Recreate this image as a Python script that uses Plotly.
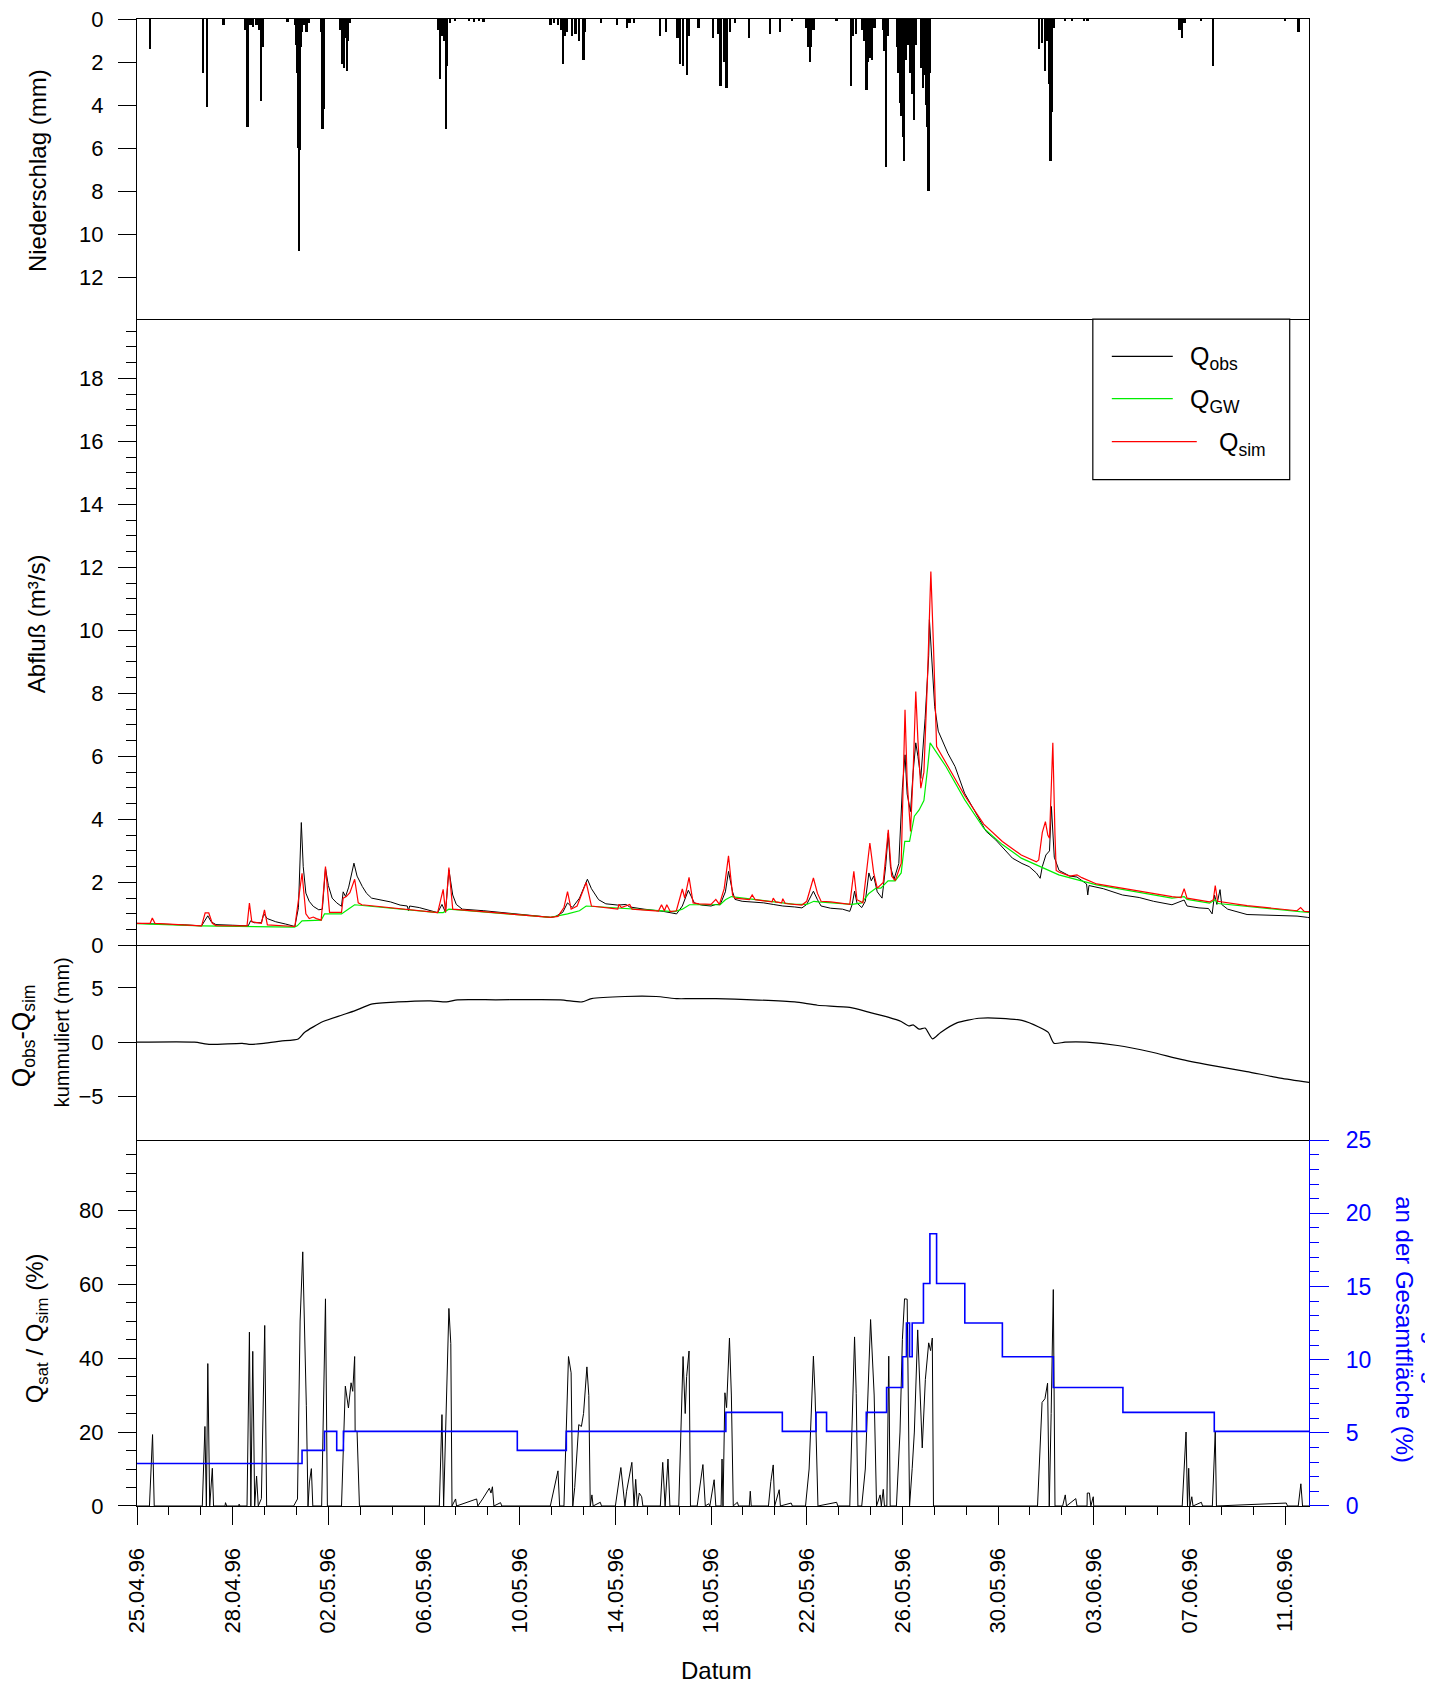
import plotly.graph_objects as go

# ---------------- data ----------------
tick_days = [0, 4, 8, 12, 16, 20, 24, 28, 32, 36, 40, 44, 48]
tick_labels = ["25.04.96", "28.04.96", "02.05.96", "06.05.96", "10.05.96", "14.05.96",
               "18.05.96", "22.05.96", "26.05.96", "30.05.96", "03.06.96", "07.06.96", "11.06.96"]

# precipitation (mm), day since first tick
precip_day = [0.56, 2.76, 2.94, 3.62, 4.55, 4.63, 4.75, 4.85, 5.0, 5.1, 5.19, 5.25, 6.3,
              6.62, 6.67, 6.70, 6.73, 6.76, 6.79, 6.83, 6.87, 6.92, 7.0, 7.1, 7.2, 7.72, 7.76, 7.8,
              8.5, 8.57, 8.62, 8.67, 8.72, 8.78, 8.83, 8.9, 12.62, 12.68, 12.75, 12.85, 12.93, 12.98,
              13.1, 13.3, 13.9, 14.1, 14.3, 14.5,
              17.3, 17.45, 17.6, 17.75, 17.83, 17.9, 17.97, 18.2, 18.35, 18.5, 18.67, 18.75, 19.4,
              20.07, 20.5, 20.6, 20.8, 21.88, 22.13, 22.6, 22.71, 22.85, 23.0, 23.1, 23.48,
              24.1, 24.3, 24.41, 24.55, 24.66, 24.8, 25.0, 25.6, 26.47, 26.9, 27.4,
              28.0, 28.08, 28.14, 28.2, 28.3, 29.25, 29.86, 29.95, 30.06, 30.35, 30.43, 30.51,
              30.57, 30.65, 30.74, 30.85, 31.2, 31.27, 31.32, 31.42, 31.8, 31.85, 31.9, 31.98, 32.03,
              32.07, 32.15, 32.25, 32.35, 32.42, 32.49, 32.55, 32.8, 32.88, 32.95, 33.02, 33.06,
              33.10, 33.16, 37.73, 37.85, 37.98, 38.08, 38.14, 38.2, 38.27, 38.35, 38.8, 39.1,
              39.6, 39.75, 43.6, 43.7, 43.8, 44.5, 44.99, 48.0, 48.57]
precip_mm = [1.4, 2.5, 4.1, 0.3, 0.5, 5.0, 0.3, 0.35, 0.3, 0.5, 3.8, 1.3, 0.15,
             0.3, 1.2, 2.5, 3.8, 6.0, 10.8, 6.1, 1.3, 0.6, 0.3, 0.6, 0.2, 0.6, 5.1, 4.2,
             0.5, 2.1, 0.8, 2.3, 0.9, 2.4, 1.0, 0.2, 0.5, 2.8, 0.8, 1.0, 5.1, 2.2,
             0.2, 0.1, 0.1, 0.15, 0.1, 0.15,
             0.3, 0.2, 0.3, 0.5, 2.1, 0.8, 0.6, 0.8, 0.7, 1.0, 1.9, 0.6, 0.2,
             0.3, 0.4, 0.2, 0.2, 0.8, 0.6, 0.9, 2.1, 2.2, 2.6, 0.8, 0.4,
             0.9, 0.7, 3.1, 2.0, 3.2, 0.6, 0.2, 0.9, 0.7, 0.6, 0.1,
             0.4, 1.3, 2.0, 1.3, 0.5, 0.1, 3.1, 0.8, 0.7, 0.5, 1.0, 3.3,
             2.0, 1.8, 1.9, 0.4, 0.5, 1.5, 6.9, 0.8, 1.3, 2.5, 3.9, 4.5, 5.5,
             6.6, 1.9, 1.2, 2.5, 3.5, 4.7, 1.2, 2.3, 3.2, 2.6, 4.0, 5.0,
             8.0, 2.5, 1.4, 1.1, 2.4, 1.0, 3.0, 6.6, 4.3, 0.4, 0.1, 0.1,
             0.1, 0.1, 0.5, 0.9, 0.2, 0.1, 2.2, 0.1, 0.6]

# observed discharge Q_obs (m3/s)
qobs_day = [0.0, 1.0, 2.0, 2.7, 2.85, 2.96, 3.1, 3.3, 4.0, 4.65, 4.75, 4.9, 5.2, 5.3, 5.45, 5.8,
            6.2, 6.6, 6.75, 6.87, 6.95, 7.06, 7.2, 7.37, 7.6, 7.75, 7.88, 8.0, 8.16, 8.35, 8.55,
            8.62, 8.72, 8.85, 9.07, 9.2, 9.42, 9.6, 9.81, 10.0, 10.2, 10.4, 10.6, 11.0, 11.3, 11.35,
            11.4, 11.8, 12.2, 12.57, 12.75, 12.9, 13.04, 13.2, 13.35, 13.6, 14.5, 15.5, 16.5,
            17.3, 17.5, 17.8, 18.0, 18.2, 18.5, 18.83, 19.0, 19.3, 19.6, 20.1, 20.44, 20.6, 21.2,
            22.0, 22.56, 22.8, 23.05, 23.3, 23.6, 24.0, 24.2, 24.38, 24.6, 24.73, 24.9, 25.0,
            25.3, 25.7, 26.2, 26.6, 27.0, 27.5, 27.8, 28.0, 28.28, 28.45, 28.6, 29.0, 29.5, 29.8,
            29.9, 30.0, 30.1, 30.3, 30.45, 30.6, 30.7, 30.8, 30.95, 31.15, 31.3, 31.41, 31.5,
            31.65, 31.85, 32.0, 32.11, 32.2, 32.34, 32.45, 32.56, 32.65, 32.77, 32.95, 33.1,
            33.13, 33.25, 33.35, 33.5, 33.7, 33.9, 34.2, 34.6, 35.0, 35.5, 35.9, 36.4, 36.6,
            37.0, 37.3, 37.6, 37.76, 37.85, 38.0, 38.15, 38.23, 38.35, 38.55, 39.0, 39.3, 39.7,
            39.75, 39.8, 40.4, 41.2, 41.9, 42.5, 43.0, 43.27, 43.78, 43.9, 44.4, 44.8, 44.95,
            45.05, 45.15, 45.28, 45.35, 45.6, 46.41, 47.2, 47.9, 48.5, 48.93, 49.0]
qobs = [0.70, 0.68, 0.65, 0.62, 0.80, 0.94, 0.75, 0.66, 0.64, 0.62, 0.78, 0.72, 0.72, 1.00, 0.85, 0.75,
        0.68, 0.60, 1.20, 3.90, 2.50, 1.66, 1.40, 1.24, 1.13, 1.15, 2.45, 1.90, 1.50, 1.35, 1.24,
        1.70, 1.55, 1.85, 2.61, 2.20, 1.87, 1.65, 1.50, 1.47, 1.44, 1.40, 1.38, 1.28, 1.25, 1.10,
        1.25, 1.20, 1.12, 1.04, 1.30, 1.05, 2.40, 1.60, 1.30, 1.15, 1.10, 1.02, 0.94,
        0.89, 0.92, 1.05, 1.35, 1.20, 1.50, 2.10, 1.80, 1.45, 1.32, 1.28, 1.30, 1.22, 1.15,
        1.08, 1.00, 1.25, 1.75, 1.35, 1.28, 1.25, 1.30, 1.29, 1.70, 2.35, 1.70, 1.46,
        1.40, 1.38, 1.35, 1.30, 1.25, 1.22, 1.19, 1.30, 1.72, 1.45, 1.25, 1.18, 1.15, 1.08,
        1.30, 1.72, 1.35, 1.20, 1.40, 2.30, 2.05, 2.20, 1.70, 1.50, 2.50, 3.56, 2.50,
        2.10, 2.60, 5.00, 6.05, 4.80, 4.25, 5.50, 6.43, 6.00, 5.30, 7.20, 9.20,
        10.34, 8.70, 7.58, 6.80, 6.43, 6.10, 5.68, 4.83, 4.30, 3.62, 3.35, 2.95, 2.77,
        2.60, 2.50, 2.30, 2.13, 2.50, 2.87, 3.00, 4.41, 2.80, 2.38, 2.20, 2.17, 1.95,
        1.60, 1.90, 1.80, 1.60, 1.52, 1.40, 1.32, 1.29, 1.44, 1.25, 1.19, 1.17, 1.00,
        1.60, 1.30, 1.77, 1.30, 1.15, 0.98, 0.97, 0.96, 0.93, 0.89, 0.88]

# groundwater component Q_GW
qgw_day = [0.0, 2.7, 6.58, 6.7, 6.9, 7.7, 7.84, 8.55, 8.8, 9.1, 12.57, 12.8, 13.04, 17.29, 18.0,
           18.5, 18.78, 22.48, 22.8, 23.1, 24.38, 24.6, 24.85, 27.5, 28.0, 28.3, 28.5, 29.9,
           30.3, 30.6, 30.9, 31.1, 31.4, 31.7, 31.95, 32.1, 32.3, 32.5, 32.7, 32.9, 33.05,
           33.16, 33.82, 34.61, 35.4, 36.18, 36.97, 38.54, 40.12, 41.69, 43.27, 43.78, 43.9,
           44.84, 45.08, 45.2, 46.41, 48.62, 49.0]
qgw = [0.69, 0.62, 0.58, 0.62, 0.78, 0.80, 1.00, 1.00, 1.13, 1.29, 1.04, 1.04, 1.15, 0.89, 1.00,
       1.10, 1.25, 1.07, 1.15, 1.29, 1.29, 1.45, 1.55, 1.30, 1.30, 1.40, 1.38, 1.30,
       1.35, 1.65, 1.82, 1.82, 2.05, 2.05, 2.30, 3.30, 3.30, 4.10, 4.30, 4.60, 5.60,
       6.43, 5.68, 4.62, 3.72, 3.20, 2.77, 2.24, 1.92, 1.71, 1.50, 1.55, 1.46,
       1.34, 1.45, 1.33, 1.23, 1.07, 1.05]

# simulated discharge Q_sim
qsim_day = [0.0, 0.55, 0.64, 0.75, 2.7, 2.85, 3.0, 3.15, 3.3, 4.6, 4.7, 4.8, 5.2, 5.33, 5.45, 6.6,
            6.9, 7.06, 7.2, 7.37, 7.5, 7.7, 7.88, 8.05, 8.55, 8.62, 8.75, 8.9, 9.1, 9.25, 9.4,
            12.57, 12.8, 12.9, 13.04, 13.2, 17.29, 17.6, 17.85, 18.0, 18.15, 18.4, 18.78, 19.0,
            20.1, 20.15, 20.25, 20.6, 20.7, 21.8, 21.93, 22.05, 22.15, 22.3, 22.55, 22.8, 22.9,
            23.08, 23.25, 23.5, 24.0, 24.2, 24.35, 24.55, 24.73, 24.9, 25.0, 25.6, 25.72, 25.85,
            26.55, 26.6, 26.7, 26.95, 27.0, 27.1, 27.8, 28.0, 28.28, 28.45, 28.6, 29.0, 29.8,
            29.97, 30.1, 30.35, 30.64, 30.8, 30.95, 31.2, 31.41, 31.55, 31.7, 31.95, 32.11, 32.2,
            32.34, 32.45, 32.56, 32.65, 32.77, 32.9, 33.05, 33.19, 33.3, 33.38, 33.43, 33.82,
            34.61, 35.4, 36.18, 36.97, 37.6, 37.7, 37.85, 37.98, 38.08, 38.15, 38.29, 38.38,
            38.43, 38.54, 39.0, 39.3, 39.5, 40.12, 41.69, 43.27, 43.65, 43.78, 43.9, 44.84, 45.0,
            45.08, 45.18, 46.41, 48.5, 48.65, 48.8, 49.0]
qsim = [0.70, 0.70, 0.87, 0.70, 0.62, 1.03, 1.03, 0.70, 0.63, 0.62, 1.34, 0.75, 0.70, 1.13, 0.65, 0.60,
        2.29, 1.00, 0.85, 0.90, 0.85, 0.80, 2.50, 1.05, 1.05, 1.50, 1.55, 1.67, 2.10, 1.35, 1.29,
        1.04, 1.78, 1.05, 2.47, 1.15, 0.89, 0.92, 1.20, 1.71, 1.15, 1.25, 2.00, 1.25,
        1.15, 1.30, 1.20, 1.30, 1.15, 1.09, 1.29, 1.10, 1.29, 1.07, 1.10, 1.79, 1.50,
        2.16, 1.35, 1.32, 1.30, 1.46, 1.30, 1.80, 2.84, 1.60, 1.50, 1.45, 1.60, 1.45,
        1.38, 1.50, 1.38, 1.35, 1.48, 1.33, 1.28, 1.40, 2.14, 1.65, 1.40, 1.38, 1.30,
        2.35, 1.45, 1.35, 3.25, 2.30, 1.82, 2.00, 3.67, 2.20, 2.06, 2.60, 7.48, 5.20,
        3.62, 5.50, 8.06, 6.50, 4.99, 5.50, 8.50, 11.87, 9.50, 7.69, 6.31, 5.80,
        4.75, 3.85, 3.30, 2.87, 2.65, 2.71, 3.59, 3.93, 3.50, 3.40, 6.43, 3.50,
        2.38, 2.33, 2.20, 2.24, 2.15, 1.95, 1.74, 1.55, 1.52, 1.80, 1.50, 1.38, 1.45,
        1.90, 1.40, 1.26, 1.10, 1.20, 1.08, 1.07]

# cumulative Q_obs - Q_sim (mm)
cum_day = [0.0, 2.4, 3.06, 4.4, 4.75, 5.3, 6.0, 6.74, 7.0, 7.78, 8.58, 9.12, 9.8, 10.9, 12.27, 12.94,
           13.4, 15.0, 17.7, 18.6, 19.0, 20.4, 21.7, 22.6, 23.06, 24.2, 25.75, 27.5, 28.45, 29.8,
           30.7, 31.4, 31.95, 32.27, 32.45, 32.7, 32.95, 33.26, 33.6, 34.3, 35.2, 36.1, 37.0,
           37.7, 38.1, 38.34, 38.8, 39.7, 41.0, 42.4, 43.7, 45.1, 46.4, 47.8, 49.0]
cum = [0.0, 0.0, -0.2, -0.1, -0.2, -0.1, 0.1, 0.3, 0.9, 1.9, 2.5, 2.9, 3.5, 3.7, 3.8, 3.7,
       3.9, 3.9, 3.9, 3.7, 4.0, 4.2, 4.2, 4.0, 4.0, 4.0, 3.9, 3.7, 3.4, 3.2,
       2.7, 2.3, 1.9, 1.5, 1.6, 1.2, 1.3, 0.3, 0.9, 1.8, 2.2, 2.2, 2.0,
       1.4, 0.9, -0.1, 0.0, 0.0, -0.3, -0.9, -1.6, -2.2, -2.7, -3.3, -3.7]

# Q_sat / Q_sim (%)
qsat_day = [0.0, 0.52, 0.65, 0.72, 2.73, 2.84, 2.9, 2.96, 3.04, 3.15, 3.2, 3.68, 3.7, 3.75, 4.25, 4.27,
            4.3, 4.6, 4.70, 4.76, 4.84, 4.92, 5.0, 5.07, 5.2, 5.34, 5.42, 6.55, 6.71, 6.82, 6.93,
            7.0, 7.08, 7.15, 7.21, 7.29, 7.35, 7.72, 7.88, 7.96, 8.55, 8.71, 8.84, 8.95, 9.02,
            9.10, 9.12, 9.2, 9.3, 12.64, 12.75, 12.82, 12.91, 13.04, 13.12, 13.17, 13.32, 13.36,
            14.2, 14.25, 14.45, 14.6, 14.73, 14.8, 14.86, 14.92, 15.2, 15.25, 17.28, 17.6,
            17.67, 17.85, 18.04, 18.15, 18.22, 18.3, 18.47, 18.58, 18.67, 18.81, 18.89, 18.95,
            19.02, 19.07, 19.37, 19.42, 20.0, 20.23, 20.4, 20.47, 20.69, 20.78, 20.85, 20.92,
            21.0, 21.1, 21.15, 21.88, 21.98, 22.08, 22.2, 22.28, 22.65, 22.83, 22.92, 22.98,
            23.08, 23.14, 23.42, 23.66, 23.76, 23.9, 23.95, 24.13, 24.2, 24.42, 24.46, 24.5,
            24.58, 24.65, 24.77, 24.85, 24.93, 25.1, 25.15, 25.6, 25.64, 25.68, 26.4, 26.5,
            26.6, 26.66, 26.85, 26.9, 27.35, 27.4, 27.95, 28.1, 28.28, 28.35, 28.47, 29.25,
            29.3, 29.8, 30.0, 30.07, 30.14, 30.3, 30.45, 30.67, 30.82, 30.92, 31.07, 31.12,
            31.2, 31.25, 31.35, 31.43, 31.49, 31.75, 31.9, 32.0, 32.09, 32.2, 32.3, 32.41,
            32.5, 32.64, 32.72, 32.83, 32.96, 33.1, 33.18, 33.25, 33.3, 37.65, 37.84, 37.96,
            38.07, 38.14, 38.22, 38.31, 38.38, 38.7, 38.81, 38.86, 39.25, 39.3, 39.72, 39.73,
            39.82, 39.88, 39.98, 40.0, 43.7, 43.86, 43.92, 43.97, 44.02, 44.1, 44.15, 44.5,
            44.55, 44.96, 45.08, 45.13, 48.05, 48.1, 48.55, 48.66, 48.73, 49.0]
qsat = [0, 0, 19.3, 0, 0, 21.5, 0, 38.5, 0, 10.2, 0, 0, 0.9, 0, 0, 0.5,
        0, 0, 47.0, 0, 41.8, 0, 8.1, 0, 2.0, 48.8, 0, 0, 1.9, 50.0, 68.7,
        50.0, 27.1, 0, 6.5, 10.1, 0, 0, 56.0, 0, 0, 32.4, 26.5, 33.3, 31.0,
        40.4, 20.2, 20.2, 0, 0, 24.7, 0, 25.0, 53.4, 43.9, 0, 1.9, 0,
        1.9, 0, 1.9, 3.3, 4.8, 3.5, 5.2, 0, 0.9, 0, 0, 9.5,
        0, 0, 40.4, 36.0, 0, 5.0, 22.0, 21.5, 25.0, 37.6, 29.9, 0,
        3.0, 0, 1.0, 0, 0, 10.4, 0, 4.0, 11.8, 0, 7.2, 0,
        3.5, 2.5, 0, 0, 11.8, 0, 12.7, 0, 0, 40.4, 25.0, 35.0,
        41.9, 0, 0, 11.2, 0, 0.6, 0, 7.1, 0, 0, 12.7, 0,
        30.6, 26.6, 45.4, 30.0, 0, 1.0, 0, 0, 4.0, 0, 0, 6.6,
        11.1, 0, 4.4, 0, 0.8, 0, 0, 10.0, 40.5, 30.0, 0, 1.0,
        0, 0, 45.7, 30.4, 0, 0, 10.0, 50.4, 30.0, 0, 3.0, 0,
        4.5, 0, 0, 40.5, 0, 0, 20.0, 45.0, 56.0, 55.9, 0, 10.2,
        20.0, 47.6, 35.0, 15.7, 34.2, 44.1, 42.0, 45.4, 0, 0, 28.0, 29.0,
        33.2, 0, 25.0, 58.5, 0, 0, 3.0, 0, 2.0, 0, 0, 3.5,
        3.5, 0, 2.5, 0, 0, 20.0, 0, 10.2, 0, 2.5, 0, 1.0,
        0, 0, 20.0, 0, 0.8, 0, 0, 6.0, 0, 0]

# saturated area fraction (%), step changes
sat_day = [0.0, 6.9, 7.84, 8.35, 8.63, 15.9, 17.95, 24.62, 26.98, 28.39, 28.83, 30.49, 31.34,
           32.01, 32.17, 32.3, 32.41, 32.88, 33.15, 33.43, 34.61, 36.18, 38.31, 41.22, 45.04, 49.0]
sat_area = [2.9, 3.8, 5.1, 3.8, 5.1, 3.8, 5.1, 6.4, 5.1, 6.4, 5.1, 6.4, 8.1,
            10.2, 12.5, 10.2, 12.5, 15.2, 18.6, 15.2, 12.5, 10.2, 8.1, 6.4, 5.1, 5.1]

# ---------------- layout helpers (page pixel coordinates) ----------------
OFF = 8                      # page body margin
W, H = 1425, 1679
PL, PR, PT, PB = 136.6, 1309.3, 19.4, 1506.1   # plot area in page pixels
ML, MT = PL - OFF, PT - OFF
MR, MB = W - (PR - OFF), H - (PB - OFF)
PW, PH = PR - PL, PB - PT


def px(x):
    return (x - PL) / PW


def py(y):
    return (PB - y) / PH


FONT = "Liberation Sans, Arial, sans-serif"
d1 = [py(319.5), 1.0]
d2 = [py(945.6), py(319.5)]
d3 = [py(1140.3), py(945.6)]
d4 = [0.0, py(1140.3)]

fig = go.Figure()
fig.add_trace(go.Bar(x=precip_day, y=precip_mm, width=0.08, marker=dict(color="black", line=dict(width=0)),
                     xaxis="x", yaxis="y", showlegend=False))
fig.add_trace(go.Scatter(x=qobs_day, y=qobs, mode="lines", line=dict(color="black", width=1),
                         xaxis="x2", yaxis="y2", showlegend=False))
fig.add_trace(go.Scatter(x=qgw_day, y=qgw, mode="lines", line=dict(color="#00ee00", width=1.2),
                         xaxis="x2", yaxis="y2", showlegend=False))
fig.add_trace(go.Scatter(x=qsim_day, y=qsim, mode="lines", line=dict(color="#ff0000", width=1.2),
                         xaxis="x2", yaxis="y2", showlegend=False))
fig.add_trace(go.Scatter(x=cum_day, y=cum, mode="lines", line=dict(color="black", width=1.2, shape="spline", smoothing=0.6),
                         xaxis="x3", yaxis="y3", showlegend=False))
fig.add_trace(go.Scatter(x=qsat_day, y=qsat, mode="lines", line=dict(color="black", width=1),
                         xaxis="x4", yaxis="y4", showlegend=False))
fig.add_trace(go.Scatter(x=sat_day, y=sat_area, mode="lines", line=dict(color="#0000ff", width=1.6, shape="hv"),
                         xaxis="x4", yaxis="y5", showlegend=False))

LW = 1.2
axline = dict(showline=True, linecolor="black", linewidth=LW, showgrid=False, zeroline=False, automargin=False)
tickst = dict(ticks="outside", ticklen=18, tickwidth=1.3, tickcolor="black",
              tickfont=dict(family=FONT, size=22, color="black"), ticklabelstandoff=10,
              ticklabeloverflow="allow")


def xax(anchor, show, mirror):
    d = dict(domain=[0, 1], range=[0, 49], anchor=anchor, mirror=mirror, **axline)
    if show:
        d.update(tickvals=tick_days, ticktext=tick_labels, tickangle=-90, **tickst,
                 minor=dict(dtick=4 / 3, tick0=0, ticks="outside", ticklen=8, tickwidth=1.3, tickcolor="black"))
        d["ticklabelstandoff"] = 14
    else:
        d.update(showticklabels=False, ticks="")
    return d


fig.update_layout(
    width=W, height=H, autosize=False,
    margin=dict(l=ML, r=MR, t=MT, b=MB, autoexpand=False),
    plot_bgcolor="white", paper_bgcolor="white",
    font=dict(family=FONT, size=22, color="black"),
    bargap=0,
    xaxis=xax("y", False, True), xaxis2=xax("y2", False, False), xaxis3=xax("y3", False, False),
    xaxis4=xax("y4", True, False),
    yaxis=dict(domain=d1, range=[13.95, 0], tickvals=[0, 2, 4, 6, 8, 10, 12], anchor="x", mirror=True,
               **axline, **tickst),
    yaxis2=dict(domain=d2, range=[0, 19.88], tickvals=[0, 2, 4, 6, 8, 10, 12, 14, 16, 18], anchor="x2",
                mirror=True, **axline, **tickst,
                minor=dict(dtick=0.5, tick0=0, ticks="outside", ticklen=10, tickwidth=1.3, tickcolor="black")),
    yaxis3=dict(domain=d3, range=[-9, 8.9], tickvals=[-5, 0, 5], anchor="x3", mirror=True, **axline, **tickst),
    yaxis4=dict(domain=d4, range=[0, 98.9], tickvals=[0, 20, 40, 60, 80], anchor="x4", mirror=False,
                **axline, **tickst,
                minor=dict(dtick=5, tick0=0, ticks="outside", ticklen=10, tickwidth=1.3, tickcolor="black")),
    yaxis5=dict(overlaying="y4", side="right", anchor="x4", range=[0, 25], tickvals=[0, 5, 10, 15, 20, 25],
                showline=True, linecolor="#0000ff", linewidth=LW, showgrid=False, zeroline=False, automargin=False,
                ticks="outside", ticklen=19, tickwidth=1.3, tickcolor="#0000ff", ticklabelstandoff=12,
                ticklabeloverflow="allow",
                tickfont=dict(family=FONT, size=23, color="#0000ff"),
                minor=dict(dtick=1, tick0=0, ticks="outside", ticklen=9, tickwidth=1.3, tickcolor="#0000ff")),
)

ann = []


def vtitle(text, x, y, size=24, color="black", angle=-90):
    ann.append(dict(text=text, x=px(x), y=py(y), xref="paper", yref="paper", showarrow=False,
                    textangle=angle, xanchor="center", yanchor="middle",
                    font=dict(family=FONT, size=size, color=color)))


vtitle("Niederschlag (mm)", 37, 171)
vtitle("Abfluß (m³/s)", 36, 624)
vtitle("Q<sub>obs</sub>-Q<sub>sim</sub>", 22, 1036, size=25)
vtitle("kummuliert (mm)", 61, 1032, size=20)
vtitle("Q<sub>sat</sub> / Q<sub>sim</sub> (%)", 36, 1328)
vtitle("an der Gesamtfläche (%)", 1404, 1330, color="#0000ff", angle=90)
vtitle("Anteil der Sättigungsflächen", 1435, 1325, color="#0000ff", angle=90)
ann.append(dict(text="Datum", x=px(716), y=py(1671), xref="paper", yref="paper", showarrow=False,
                xanchor="center", yanchor="middle", font=dict(family=FONT, size=24, color="black")))

# legend (drawn manually)
shapes = [dict(type="rect", xref="paper", yref="paper", x0=px(1093), x1=px(1290), y0=py(480), y1=py(319.5),
               line=dict(color="black", width=LW), fillcolor="white", layer="above")]
leg = [("Q<sub>obs</sub>", "black", 356.7, 1173, 1188),
       ("Q<sub>GW</sub>", "#00ee00", 399, 1173, 1188),
       ("Q<sub>sim</sub>", "#ff0000", 442, 1197, 1217)]
for txt, col, yy, xe, xt in leg:
    shapes.append(dict(type="line", xref="paper", yref="paper", x0=px(1112), x1=px(xe), y0=py(yy), y1=py(yy),
                       line=dict(color=col, width=1.2), layer="above"))
    ann.append(dict(text=txt, x=px(xt), y=py(yy + 2), xref="paper", yref="paper", showarrow=False,
                    xanchor="left", yanchor="middle", font=dict(family=FONT, size=25, color="black")))

fig.update_layout(annotations=ann, shapes=shapes)
fig.write_html("out.html")
